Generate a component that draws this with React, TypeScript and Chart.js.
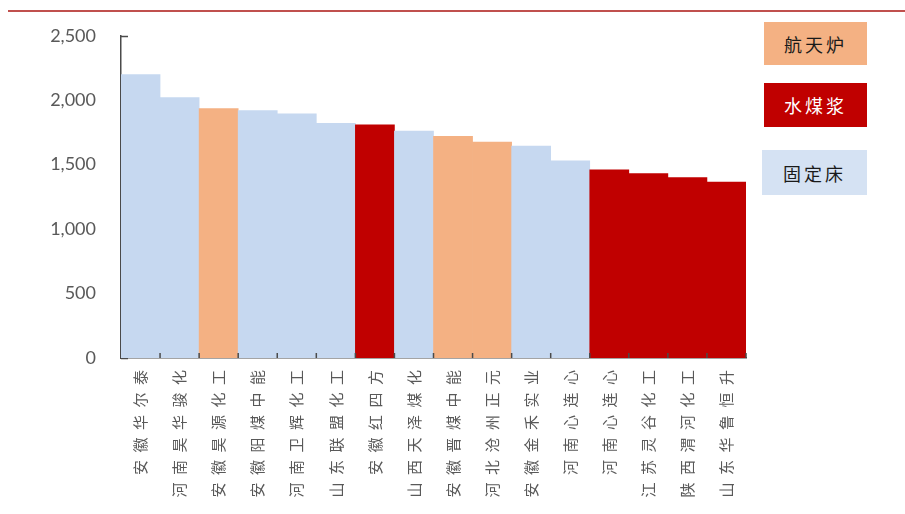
import React, { useEffect, useRef } from "react";
import { Chart, registerables } from "chart.js";

Chart.register(...registerables);

const categories = [
  "安徽华尔泰", "河南昊华骏化", "安徽昊源化工", "安徽阳煤中能", "河南卫辉化工", "山东联盟化工",
  "安徽红四方", "山西天泽煤化", "安徽晋煤中能", "河北沧州正元", "安徽金禾实业", "河南心连心",
  "河南心连心", "江苏灵谷化工", "陕西渭河化工", "山东华鲁恒升",
];
const values = [2200, 2020, 1935, 1920, 1895, 1820, 1810, 1760, 1720, 1675, 1645, 1530, 1460, 1430, 1400, 1365];
const types = [
  "固定床", "固定床", "航天炉", "固定床", "固定床", "固定床", "水煤浆", "固定床",
  "航天炉", "航天炉", "固定床", "固定床", "水煤浆", "水煤浆", "水煤浆", "水煤浆",
];
const legendItems = ["航天炉", "水煤浆", "固定床"];
const typeColors: Record<string, string> = { 航天炉: "#F4B183", 水煤浆: "#C00000", 固定床: "#C6D8F0" };

const axisColor = "#4a4a4a";

const innerTicks = {
  id: "innerTicks",
  beforeDatasetsDraw(chart: any) {
    const { ctx, scales } = chart;
    const y = scales.y;
    const x = scales.x;
    ctx.save();
    ctx.strokeStyle = axisColor;
    ctx.lineWidth = 1.5;
    y.ticks.forEach((t: any) => {
      const py = Math.round(y.getPixelForValue(t.value)) + 0.5;
      ctx.beginPath();
      ctx.moveTo(x.left, py);
      ctx.lineTo(x.left + 7, py);
      ctx.stroke();
    });
    ctx.restore();
  },
  afterDatasetsDraw(chart: any) {
    const { ctx, scales } = chart;
    const x = scales.x;
    const y = scales.y;
    ctx.save();
    ctx.strokeStyle = axisColor;
    ctx.lineWidth = 1.5;
    for (let i = 0; i < categories.length; i++) {
      const px = i + 1 < categories.length ? (x.getPixelForValue(i) + x.getPixelForValue(i + 1)) / 2 : x.right;
      ctx.beginPath();
      ctx.moveTo(px, y.bottom);
      ctx.lineTo(px, y.bottom - 5);
      ctx.stroke();
    }
    ctx.restore();
  },
};

export default function App() {
  const ref = useRef<HTMLCanvasElement | null>(null);
  useEffect(() => {
    if (!ref.current) return;
    const chart = new Chart(ref.current, {
      type: "bar",
      data: {
        labels: categories,
        datasets: [
          {
            data: values,
            backgroundColor: types.map((t) => typeColors[t]),
            borderWidth: 0,
            barPercentage: 1,
            categoryPercentage: 1,
          },
        ],
      },
      options: {
        animation: false,
        responsive: false,
        maintainAspectRatio: false,
        layout: { padding: { top: 33, right: 159, left: 0, bottom: 0 } },
        plugins: { legend: { display: false }, tooltip: { enabled: false } },
        scales: {
          x: {
            grid: { display: false, drawTicks: false },
            border: { display: true, color: axisColor, width: 1.5 },
            ticks: {
              minRotation: 90,
              maxRotation: 90,
              autoSkip: false,
              padding: 12,
              color: "#595959",
              font: { family: "'Noto Sans CJK SC'", size: 15 },
              callback: (_v: any, i: number) => categories[i].split("").join("\u2002"),
            },
            afterFit: (s: any) => { s.height = 156; },
          },
          y: {
            min: 0,
            max: 2500,
            grid: { display: false, drawTicks: false },
            border: { display: true, color: axisColor, width: 1.5 },
            ticks: {
              stepSize: 500,
              padding: 25,
              color: "#595959",
              font: { family: "Lato", size: 18 },
              callback: (v: any) => Number(v).toLocaleString("en-US"),
            },
            afterFit: (s: any) => { s.width = 121; },
          },
        },
      },
      plugins: [innerTicks],
    });
    return () => chart.destroy();
  }, []);

  const boxes = [
    { top: 22, height: 43, left: 764, width: 103 },
    { top: 83, height: 44, left: 764, width: 103 },
    { top: 150, height: 45, left: 762, width: 105 },
  ];
  const boxBg: Record<string, string> = { 航天炉: "#F4B183", 水煤浆: "#C00000", 固定床: "#D5E2F3" };

  return (
    <div style={{ position: "fixed", left: 0, top: 0, width: 905, height: 514, background: "#fff", overflow: "hidden" }}>
      <canvas ref={ref} width={905} height={514} style={{ position: "absolute", left: 0, top: 0 }} />
      <div style={{ position: "absolute", left: 8, top: 10, width: 897, height: 2, background: "#C0504D" }} />
      {legendItems.map((name, i) => (
        <div
          key={name}
          style={{
            position: "absolute",
            left: boxes[i].left,
            top: boxes[i].top,
            width: boxes[i].width,
            height: boxes[i].height,
            background: boxBg[name],
            color: name === "水煤浆" ? "#ffffff" : "#1a1a1a",
            fontFamily: "'Noto Sans CJK SC'",
            fontSize: 18,
            letterSpacing: 3,
            display: "flex",
            alignItems: "center",
            justifyContent: "center",
          }}
        >
          {name}
        </div>
      ))}
    </div>
  );
}
